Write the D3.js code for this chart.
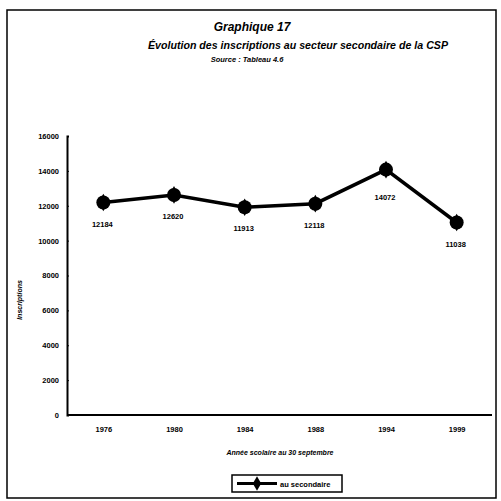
<!DOCTYPE html>
<html><head><meta charset="utf-8">
<script src="https://cdn.jsdelivr.net/npm/d3@7"></script>
<style>body{margin:0;background:#fff}svg{display:block}text{font-family:"Liberation Sans",Arial,sans-serif;fill:#000}</style>
</head><body><svg id="c" width="501" height="501"></svg>
<script>
const years = ["1976","1980","1984","1988","1994","1999"];
const values = [12184, 12620, 11913, 12118, 14072, 11038];
const yTicks = [0,2000,4000,6000,8000,10000,12000,14000,16000];
const titleLines = ["Graphique 17","Évolution des inscriptions au secteur secondaire de la CSP","Source : Tableau 4.6"];
const seriesName = "au secondaire";

const svg = d3.select("#c");
svg.append("rect").attr("x",7).attr("y",10).attr("width",489).attr("height",488)
  .attr("fill","none").attr("stroke","#000").attr("stroke-width",1.5);

svg.append("text").attr("x",252).attr("y",31).attr("text-anchor","middle")
  .attr("font-size",12).attr("font-weight","bold").attr("font-style","italic").text(titleLines[0]);
svg.append("text").attr("x",298).attr("y",49).attr("text-anchor","middle")
  .attr("font-size",10).attr("font-weight","bold").attr("font-style","italic")
  .attr("textLength",300).attr("lengthAdjust","spacingAndGlyphs").text(titleLines[1]);
svg.append("text").attr("x",247).attr("y",62).attr("text-anchor","middle")
  .attr("font-size",7.5).attr("font-weight","bold").attr("font-style","italic").text(titleLines[2]);

const x = d3.scalePoint().domain(years).range([68,492]).padding(0.5);
const y = d3.scaleLinear().domain([0,16000]).range([415,136]);

const ya = svg.append("g").attr("transform","translate(67,0)")
  .call(d3.axisLeft(y).tickValues(yTicks).tickSize(-2).tickPadding(8).tickFormat(d3.format("d")));
ya.select(".domain").attr("stroke","#000").attr("stroke-width",2);
ya.selectAll("text").attr("font-size",7.5).attr("font-weight","bold");
const xa = svg.append("g").attr("transform","translate(0,415)")
  .call(d3.axisBottom(x).tickSize(0).tickPadding(12));
xa.select(".domain").attr("stroke","#000").attr("stroke-width",2).attr("d","M67,0H492");
xa.selectAll("text").attr("font-size",7.5).attr("font-weight","bold");

svg.append("text").attr("transform","translate(22,300) rotate(-90)").attr("text-anchor","middle")
  .attr("font-size",7).attr("font-weight","bold").attr("font-style","italic").text("Inscriptions");
svg.append("text").attr("x",280).attr("y",455).attr("text-anchor","middle")
  .attr("font-size",7).attr("font-weight","bold").attr("font-style","italic").text("Année scolaire au 30 septembre");

const data = years.map((yr,i)=>({yr,v:values[i]}));
svg.append("path").datum(data).attr("fill","none").attr("stroke","#000").attr("stroke-width",3.5)
  .attr("d",d3.line().x(d=>x(d.yr)).y(d=>y(d.v)));
const diamond = d3.symbol().type(d3.symbolDiamond).size(90);
svg.selectAll(".pt").data(data).join("path").attr("class","pt")
  .attr("transform",d=>`translate(${x(d.yr)},${y(d.v)})`).attr("d",diamond()).attr("fill","#000");
svg.selectAll(".pt2").data(data).join("circle").attr("class","pt2")
  .attr("cx",d=>x(d.yr)).attr("cy",d=>y(d.v)).attr("r",7).attr("fill","#000");
svg.selectAll(".lbl").data(data).join("text").attr("class","lbl")
  .attr("x",d=>x(d.yr)-1).attr("y",(d,i)=>y(d.v)+(i===4?30:24)).attr("text-anchor","middle")
  .attr("font-size",7.5).attr("font-weight","bold").text(d=>d.v);

const lg = svg.append("g").attr("transform","translate(232,475)");
lg.append("rect").attr("width",110).attr("height",17).attr("fill","#fff").attr("stroke","#000").attr("stroke-width",1.5);
lg.append("line").attr("x1",5).attr("x2",45).attr("y1",8.5).attr("y2",8.5).attr("stroke","#000").attr("stroke-width",3);
lg.append("path").attr("transform","translate(25,8.5)").attr("d",d3.symbol().type(d3.symbolDiamond).size(60)()).attr("fill","#000");
lg.append("text").attr("x",48).attr("y",11.5).attr("font-size",7.5).attr("font-weight","bold").text(seriesName);
</script></body></html>
